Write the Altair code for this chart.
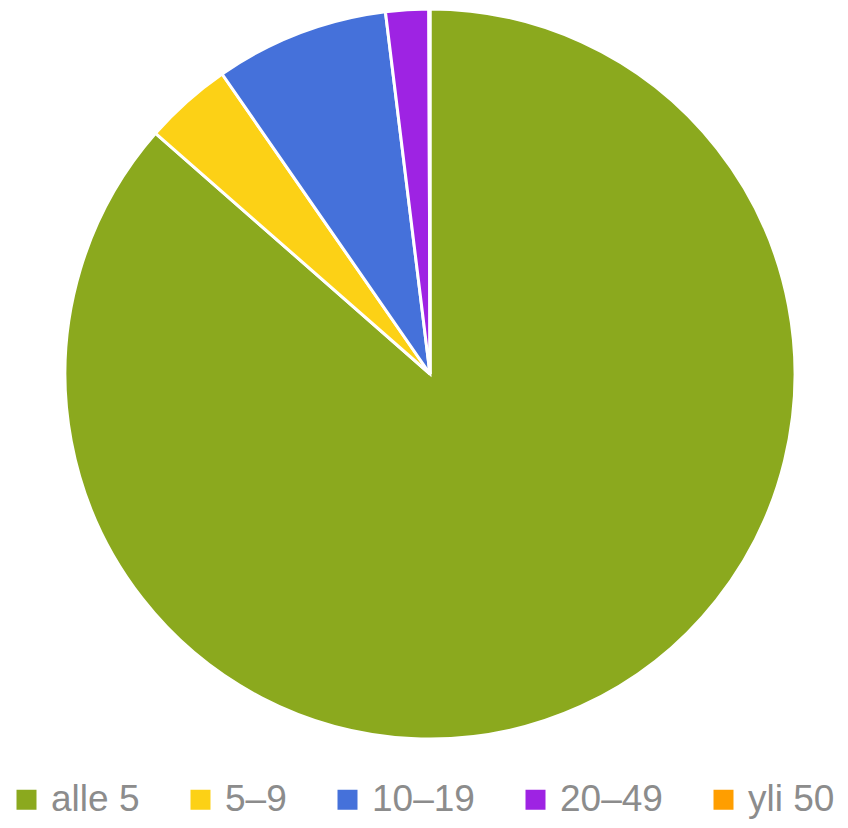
import altair as alt
import pandas as pd

categories = ["alle 5", "5–9", "10–19", "20–49", "yli 50"]
values = [86.5, 3.9, 7.7, 1.9, 0.05]
colors = ["#8BA91E", "#FCD116", "#4571DA", "#9E23E3", "#FF9E00"]

df = pd.DataFrame({"cat": categories, "val": values, "ord": list(range(len(categories)))})

chart = alt.Chart(df).mark_arc(outerRadius=365, stroke="white", strokeWidth=3).encode(
    x=alt.value(422),
    y=alt.value(366),
    theta=alt.Theta("val:Q", stack=True),
    order=alt.Order("ord:Q"),
    color=alt.Color(
        "cat:N",
        sort=categories,
        scale=alt.Scale(domain=categories, range=colors),
        legend=alt.Legend(
            title=None,
            orient="none",
            legendX=0,
            legendY=773,
            direction="horizontal",
            columns=5,
            symbolType="square",
            symbolSize=400,
            symbolStrokeWidth=0,
            labelFontSize=37,
            labelFont="Liberation Sans",
            labelColor="#8C8C8C",
            labelOffset=6,
            columnPadding=42,
            labelLimit=300,
            padding=0,
        ),
    ),
).properties(
    width=832,
    height=812,
    autosize=alt.AutoSizeParams(type="none"),
    padding=0,
).configure_view(stroke=None)

chart.save("out.html", embed_options={"renderer": "svg", "actions": False})
